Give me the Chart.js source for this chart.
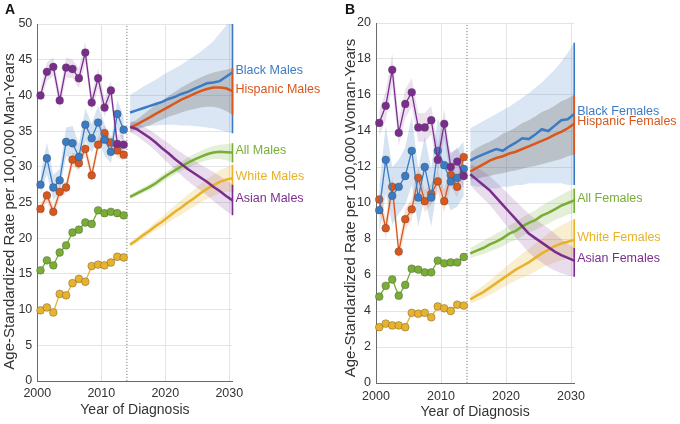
<!DOCTYPE html>
<html>
<head>
<meta charset="utf-8">
<script src="https://cdn.jsdelivr.net/npm/chart.js@4.4.1/dist/chart.umd.min.js"></script>
<style>
html,body{margin:0;padding:0;background:#fff;}
#wrap{position:relative;width:680px;height:424px;overflow:hidden;font-family:"Liberation Sans",Arial,Helvetica,sans-serif;}
.panel{position:absolute;top:0;width:340px;height:424px;}
.tag{position:absolute;top:1px;font-weight:bold;font-size:14px;color:#111;}
</style>
</head>
<body>
<div id="wrap">
  <div class="panel" style="left:0"><canvas id="cA" width="340" height="424"></canvas></div>
  <div class="panel" style="left:340px"><canvas id="cB" width="340" height="424"></canvas></div>
  <div class="tag" style="left:5px">A</div>
  <div class="tag" style="left:345px">B</div>
</div>
<script>
// ---------------- DATA ----------------
const yearsObserved = [2000,2001,2002,2003,2004,2005,2006,2007,2008,2009,2010,2011,2012,2013];
const yearsProjected = [2014,2015,2016,2017,2018,2019,2020,2021,2022,2023,2024,2025,2026,2027,2028,2029,2030];
const xTickLabels = [2000, 2010, 2020, 2030];
const yTicksMales = [0,5,10,15,20,25,30,35,40,45,50];
const yTicksFemales = [0,2,4,6,8,10,12,14,16,18,20];
const projectionStartYear = 2014;

const maleNames = ['Black Males','Hispanic Males','All Males','White Males','Asian Males'];
const femaleNames = ['Black Females','Hispanic Females','All Females','White Females','Asian Females'];

// Panel A: males, observed 2000-2013
const maleBlackObs    = [27.5, 31.2, 27.1, 28.1, 33.5, 33.3, 31.4, 35.9, 34.0, 36.2, 33.8, 32.1, 37.4, 35.2];
const maleBlackObsCI  = [1.5, 2.2, 1.8, 1.6, 2.0, 2.4, 1.8, 2.3, 2.0, 2.4, 2.2, 1.6, 2.0, 1.8];
const maleHispObs     = [24.1, 26.0, 23.7, 26.5, 27.1, 31.0, 30.5, 32.5, 28.8, 33.1, 34.7, 33.4, 32.3, 31.7];
const maleHispObsCI   = [0.7, 0.9, 0.8, 0.8, 0.9, 1.0, 0.9, 1.0, 0.9, 1.0, 1.0, 0.9, 1.0, 0.9];
const maleAsianObs    = [40.0, 43.3, 44.0, 39.3, 43.9, 43.7, 42.4, 46.0, 39.0, 42.4, 38.3, 40.7, 33.2, 33.1];
const maleAsianObsCI  = [1.2, 1.3, 1.3, 1.2, 1.4, 1.3, 1.4, 1.5, 1.3, 1.4, 1.3, 1.4, 1.4, 1.3];
const maleAllObs      = [15.5, 16.9, 16.2, 18.0, 19.0, 20.8, 21.2, 22.2, 22.0, 23.9, 23.5, 23.7, 23.5, 23.2];
const maleWhiteObs    = [9.9, 10.3, 9.6, 12.2, 12.0, 13.7, 14.3, 13.9, 16.1, 16.3, 16.2, 16.6, 17.4, 17.3];

// Panel A: males, projected 2014-2030 with interval
const maleBlackProj = [37.6, 37.9, 38.2, 38.5, 38.8, 39.1, 39.5, 39.8, 40.2, 40.5, 40.9, 41.3, 41.7, 41.8, 42.0, 42.6, 43.2];
const maleBlackLo   = [35.3, 35.5, 35.6, 35.7, 35.8, 35.9, 35.9, 35.9, 35.8, 35.8, 35.7, 35.6, 35.5, 35.4, 35.2, 34.9, 34.7];
const maleBlackHi   = [40.1, 40.6, 41.2, 41.7, 42.2, 42.8, 43.3, 43.8, 44.3, 44.9, 45.5, 46.1, 46.8, 47.6, 48.7, 49.8, 51.0];
const maleHispProj  = [35.5, 35.9, 36.4, 36.9, 37.4, 37.9, 38.4, 38.9, 39.4, 39.8, 40.2, 40.6, 40.9, 41.1, 41.1, 41.0, 40.6];
const maleHispLo    = [34.9, 35.2, 35.5, 35.8, 36.2, 36.6, 37.0, 37.3, 37.6, 37.9, 38.1, 38.3, 38.4, 38.4, 38.2, 37.8, 37.3];
const maleHispHi    = [36.1, 36.6, 37.3, 38.0, 38.7, 39.3, 39.9, 40.5, 41.1, 41.6, 42.1, 42.5, 42.9, 43.2, 43.4, 43.6, 43.8];
const maleAsianProj = [35.6, 35.3, 34.7, 34.1, 33.4, 32.6, 31.9, 31.1, 30.4, 29.7, 29.1, 28.5, 27.9, 27.2, 26.6, 25.9, 25.3];
const maleAsianLo   = [34.8, 34.4, 33.7, 33.0, 32.2, 31.3, 30.5, 29.6, 28.8, 28.0, 27.3, 26.7, 26.0, 25.2, 24.5, 23.8, 23.2];
const maleAsianHi   = [36.4, 36.2, 35.7, 35.2, 34.6, 33.9, 33.3, 32.6, 32.0, 31.4, 30.9, 30.3, 29.8, 29.3, 28.7, 28.1, 27.5];
const maleAllProj   = [25.8, 26.25, 26.7, 27.15, 27.7, 28.35, 28.95, 29.5, 30.05, 30.55, 31.0, 31.4, 31.75, 32.0, 32.1, 32.05, 32.0];
const maleAllLo     = [25.5, 25.9, 26.3, 26.7, 27.2, 27.8, 28.4, 28.9, 29.4, 29.8, 30.2, 30.6, 30.9, 31.1, 31.1, 30.9, 30.6];
const maleAllHi     = [26.1, 26.6, 27.1, 27.6, 28.2, 28.9, 29.5, 30.1, 30.7, 31.3, 31.8, 32.2, 32.6, 32.9, 33.1, 33.2, 33.3];
const maleWhiteProj = [19.1, 19.7, 20.4, 21.0, 21.7, 22.3, 23.0, 23.7, 24.3, 25.0, 25.6, 26.3, 26.9, 27.4, 27.9, 28.2, 28.4];
const maleWhiteLo   = [18.8, 19.3, 19.9, 20.5, 21.1, 21.6, 22.2, 22.8, 23.3, 23.9, 24.4, 25.0, 25.5, 25.9, 26.3, 26.5, 26.5];
const maleWhiteHi   = [19.4, 20.1, 20.8, 21.5, 22.3, 23.0, 23.8, 24.6, 25.3, 26.1, 26.8, 27.6, 28.3, 28.9, 29.5, 29.9, 30.3];

// Panel B: females, observed 2000-2013
const femBlackObs    = [9.6, 12.4, 10.4, 10.9, 11.5, 12.9, 10.3, 12.0, 10.3, 12.9, 12.1, 11.2, 11.4, 11.9];
const femBlackObsCI  = [1.3, 1.9, 1.6, 1.5, 1.6, 1.9, 1.6, 1.7, 1.6, 1.8, 1.7, 1.6, 1.6, 1.5];
const femHispObs     = [10.2, 8.6, 10.9, 7.3, 9.1, 9.65, 11.4, 10.1, 10.5, 11.2, 10.1, 11.55, 10.9, 12.55];
const femHispObsCI   = [0.5, 0.6, 0.6, 0.5, 0.6, 0.6, 0.6, 0.6, 0.6, 0.6, 0.6, 0.6, 0.6, 0.6];
const femAsianObs    = [14.45, 15.4, 17.4, 13.9, 15.5, 16.15, 14.2, 14.2, 14.6, 12.4, 14.4, 12.0, 12.3, 11.5];
const femAsianObsCI  = [0.7, 0.8, 0.9, 0.7, 0.8, 0.8, 0.8, 0.8, 0.8, 0.8, 0.8, 0.7, 0.8, 0.7];
const femAllObs      = [4.8, 5.4, 5.75, 4.85, 5.45, 6.35, 6.3, 6.15, 6.15, 6.8, 6.65, 6.7, 6.7, 7.0];
const femWhiteObs    = [3.1, 3.3, 3.2, 3.2, 3.1, 3.9, 3.85, 3.9, 3.65, 4.25, 4.15, 4.0, 4.35, 4.3];

// Panel B: females, projected 2014-2030 with interval
const femBlackProj = [12.35, 12.55, 12.7, 12.85, 13.0, 12.9, 13.15, 13.35, 13.6, 13.55, 13.8, 14.1, 14.0, 14.3, 14.6, 14.65, 14.95];
const femBlackLo   = [11.0, 10.9, 10.9, 10.8, 10.8, 10.9, 10.9, 11.0, 11.0, 11.1, 11.1, 11.1, 11.1, 11.1, 11.1, 11.0, 11.0];
const femBlackHi   = [14.15, 14.35, 14.55, 14.75, 14.95, 15.15, 15.35, 15.6, 15.85, 16.1, 16.4, 16.7, 17.05, 17.4, 17.85, 18.35, 18.9];
const femHispProj  = [11.75, 11.95, 12.15, 12.35, 12.5, 12.6, 12.75, 12.85, 13.0, 13.15, 13.3, 13.45, 13.6, 13.8, 13.95, 14.15, 14.4];
const femHispLo    = [11.3, 11.35, 11.45, 11.5, 11.6, 11.65, 11.75, 11.8, 11.9, 12.0, 12.05, 12.15, 12.25, 12.35, 12.45, 12.6, 12.7];
const femHispHi    = [12.8, 13.05, 13.25, 13.4, 13.6, 13.85, 14.0, 14.2, 14.45, 14.6, 14.8, 15.05, 15.2, 15.4, 15.65, 15.8, 16.0];
const femAsianProj = [11.6, 11.3, 11.0, 10.7, 10.3, 9.9, 9.5, 9.1, 8.7, 8.3, 8.05, 7.8, 7.55, 7.3, 7.1, 6.95, 6.8];
const femAsianLo   = [11.0, 10.6, 10.25, 9.9, 9.45, 9.0, 8.55, 8.1, 7.65, 7.25, 6.95, 6.7, 6.45, 6.25, 6.1, 6.0, 5.9];
const femAsianHi   = [12.2, 12.0, 11.75, 11.5, 11.15, 10.8, 10.45, 10.1, 9.75, 9.4, 9.1, 8.85, 8.6, 8.3, 8.0, 7.75, 7.5];
const femAllProj   = [7.2, 7.35, 7.5, 7.7, 7.85, 8.05, 8.3, 8.45, 8.7, 8.9, 9.05, 9.3, 9.45, 9.65, 9.85, 10.0, 10.15];
const femAllLo     = [6.95, 7.05, 7.15, 7.3, 7.45, 7.6, 7.8, 7.95, 8.15, 8.35, 8.5, 8.7, 8.85, 9.05, 9.2, 9.35, 9.45];
const femAllHi     = [7.5, 7.7, 7.9, 8.1, 8.3, 8.5, 8.75, 8.95, 9.2, 9.4, 9.6, 9.85, 10.05, 10.25, 10.45, 10.65, 10.8];
const femWhiteProj = [4.65, 4.85, 5.05, 5.3, 5.55, 5.8, 6.05, 6.3, 6.5, 6.7, 6.95, 7.2, 7.4, 7.6, 7.75, 7.85, 7.95];
const femWhiteLo   = [4.4, 4.55, 4.7, 4.9, 5.1, 5.3, 5.5, 5.7, 5.85, 6.0, 6.2, 6.4, 6.55, 6.7, 6.8, 6.9, 7.0];
const femWhiteHi   = [4.9, 5.15, 5.4, 5.7, 6.0, 6.3, 6.6, 6.9, 7.2, 7.45, 7.75, 8.0, 8.3, 8.55, 8.75, 8.95, 9.1];

// ---------------- STYLE ----------------
const FONT = '"Liberation Sans", Arial, Helvetica, sans-serif';
const MID = 0.5; // values plotted at mid-year
const C = {
  black:   {line:'#3b7bc4', band:'rgba(59,123,196,0.19)', obsBand:'rgba(59,123,196,0.22)'},
  hisp:    {line:'#d9571c', band:'rgba(115,105,100,0.30)', obsBand:'rgba(217,87,28,0.18)'},
  asian:   {line:'#7b2d8e', band:'rgba(123,45,142,0.17)', obsBand:'rgba(123,45,142,0.15)'},
  all:     {line:'#79ad35', band:'rgba(121,173,53,0.20)', obsBand:null},
  white:   {line:'#e8b22a', band:'rgba(232,178,42,0.22)', obsBand:null}
};

function pts(years, vals){ return years.map((yr,i)=>({x: yr + MID, y: vals[i]})); }

function buildDatasets(series, yMax){
  const ds = [];
  const lastX = yearsProjected[yearsProjected.length-1] + MID;
  ds.push({data:[{x:projectionStartYear,y:0},{x:projectionStartYear,y:yMax}], borderColor:'#808080', borderWidth:1,
           borderDash:[1.2,1.8], pointRadius:0, fill:false, order:300});
  series.forEach((s)=>{
    ds.push({data:pts(yearsProjected, s.hi), fill:'+1', backgroundColor:s.col.band, borderColor:'rgba(0,0,0,0)',
             borderWidth:1, pointRadius:0, order:200 - s.bandRank});
    ds.push({data:pts(yearsProjected, s.lo), fill:false, borderColor:'rgba(0,0,0,0)', borderWidth:1, pointRadius:0, order:200 - s.bandRank});
    if (s.obsCI && s.col.obsBand){
      ds.push({data:pts(yearsObserved, s.obs.map((v,i)=>v + s.obsCI[i])), fill:'+1', backgroundColor:s.col.obsBand,
               borderColor:'rgba(0,0,0,0)', borderWidth:1, pointRadius:0, order:150 - s.bandRank});
      ds.push({data:pts(yearsObserved, s.obs.map((v,i)=>v - s.obsCI[i])), fill:false, borderColor:'rgba(0,0,0,0)',
               borderWidth:1, pointRadius:0, order:150 - s.bandRank});
    }
    ds.push({data:[{x:lastX, y:s.lo[s.lo.length-1]},{x:lastX, y:s.hi[s.hi.length-1]}], borderColor:s.col.line,
             borderWidth:1.6, pointRadius:0, fill:false, order:60 - s.barRank,
             clip:{left:4,right:4,top:0,bottom:4}});
    ds.push({data:pts(yearsProjected, s.proj), borderColor:s.col.line, borderWidth:2.5, pointRadius:0, fill:false,
             order:40 - s.lineRank, clip:{left:4,right:4,top:0,bottom:4}});
    ds.push({data:pts(yearsObserved, s.obs), borderColor:s.col.line, borderWidth:1.3, pointRadius:3.9,
             pointBackgroundColor:s.col.line, pointBorderColor:'rgba(70,70,70,0.45)', pointBorderWidth:0.8,
             fill:false, order:20 - s.lineRank, clip:{left:6,right:6,top:6,bottom:6}});
  });
  return ds;
}

const endLabels = {
  id:'endLabels',
  afterDatasetsDraw(chart, args, opts){
    const {ctx, chartArea, scales} = chart;
    ctx.save();
    ctx.font = opts.font;
    ctx.textBaseline = 'middle';
    ctx.textAlign = 'left';
    (opts.items || []).forEach(it=>{
      ctx.fillStyle = it.color;
      ctx.fillText(it.text, chartArea.right + opts.gap, scales.y.getPixelForValue(it.value) + opts.dy);
    });
    ctx.restore();
  }
};

const yTitlePlugin = {
  id:'yTitle',
  afterDraw(chart, args, opts){
    const {ctx, chartArea} = chart;
    ctx.save();
    ctx.font = opts.font;
    ctx.fillStyle = opts.color;
    ctx.textAlign = 'center';
    ctx.textBaseline = 'middle';
    ctx.translate(opts.x, (chartArea.top + chartArea.bottom)/2 + opts.dy);
    ctx.rotate(-Math.PI/2);
    ctx.fillText(opts.text, 0, 0);
    ctx.restore();
  }
};

function makeChart(id, series, names, yTicks, yTitle, geo){
  const yMax = yTicks[yTicks.length-1];
  const items = series.map((s,i)=>({text:names[i], color:s.col.line, value:s.proj[s.proj.length-1]}));
  return new Chart(document.getElementById(id), {
    type:'line',
    data:{datasets: buildDatasets(series, yMax)},
    plugins:[endLabels, yTitlePlugin],
    options:{
      responsive:false, animation:false, devicePixelRatio:1, events:[],
      layout:{padding:{top:geo.top, right:geo.right, left:0, bottom:0}},
      elements:{line:{tension:0}},
      plugins:{legend:{display:false}, tooltip:{enabled:false},
        endLabels:{items, font:'12.5px '+FONT, gap:3, dy:-2},
        yTitle:{text:yTitle, font:'15px '+FONT, color:'#333', x:geo.tx, dy:geo.tdy}},
      scales:{
        x:{type:'linear', min:2000, max:yearsProjected[yearsProjected.length-1]+MID,
           afterBuildTicks:(sc)=>{ sc.ticks = xTickLabels.map(v=>({value:v})); },
           afterFit:(sc)=>{ sc.height = geo.xh; },
           ticks:{autoSkip:false, maxRotation:0, padding:geo.xpad, color:'#333', font:{family:FONT, size:12.5},
                  callback:(v)=>String(v)},
           grid:{color:'#e4e4e4', drawTicks:false, lineWidth:1},
           border:{color:'#6a6a6a', width:1},
           title:{display:true, text:'Year of Diagnosis', color:'#333', font:{family:FONT, size:14},
                  padding:{top:0, bottom:geo.xtb}}},
        y:{type:'linear', min:0, max:yMax,
           afterBuildTicks:(sc)=>{ sc.ticks = yTicks.map(v=>({value:v})); },
           afterFit:(sc)=>{ sc.width = geo.yw; },
           ticks:{padding:5, color:'#333', font:{family:FONT, size:12.5}},
           grid:{color:'#e4e4e4', drawTicks:false, lineWidth:1},
           border:{color:'#6a6a6a', width:1},
           title:{display:false}}
      }
    }
  });
}

const maleSeries = [
  {col:C.black, obs:maleBlackObs, obsCI:maleBlackObsCI, proj:maleBlackProj, lo:maleBlackLo, hi:maleBlackHi, bandRank:0, barRank:0, lineRank:1},
  {col:C.hisp,  obs:maleHispObs,  obsCI:maleHispObsCI,  proj:maleHispProj,  lo:maleHispLo,  hi:maleHispHi,  bandRank:1, barRank:1, lineRank:0},
  {col:C.all,   obs:maleAllObs,   obsCI:null, proj:maleAllProj,  lo:maleAllLo,  hi:maleAllHi,  bandRank:2, barRank:2, lineRank:-1},
  {col:C.white, obs:maleWhiteObs, obsCI:null, proj:maleWhiteProj, lo:maleWhiteLo, hi:maleWhiteHi, bandRank:3, barRank:3, lineRank:-2},
  {col:C.asian, obs:maleAsianObs, obsCI:maleAsianObsCI, proj:maleAsianProj, lo:maleAsianLo, hi:maleAsianHi, bandRank:4, barRank:4, lineRank:2}
];
const femaleSeries = [
  {col:C.black, obs:femBlackObs, obsCI:femBlackObsCI, proj:femBlackProj, lo:femBlackLo, hi:femBlackHi, bandRank:0, barRank:0, lineRank:1},
  {col:C.hisp,  obs:femHispObs,  obsCI:femHispObsCI,  proj:femHispProj,  lo:femHispLo,  hi:femHispHi,  bandRank:1, barRank:1, lineRank:0},
  {col:C.all,   obs:femAllObs,   obsCI:null, proj:femAllProj,  lo:femAllLo,  hi:femAllHi,  bandRank:2, barRank:2, lineRank:-1},
  {col:C.white, obs:femWhiteObs, obsCI:null, proj:femWhiteProj, lo:femWhiteLo, hi:femWhiteHi, bandRank:3, barRank:3, lineRank:-2},
  {col:C.asian, obs:femAsianObs, obsCI:femAsianObsCI, proj:femAsianProj, lo:femAsianLo, hi:femAsianHi, bandRank:4, barRank:4, lineRank:2}
];

makeChart('cA', maleSeries, maleNames, yTicksMales, 'Age-Standardized Rate per 100,000 Man-Years',
  {top:24, right:107.5, yw:37.3, xh:43, xpad:5, xtb:5, tx:10, tdy:9});
makeChart('cB', femaleSeries, femaleNames, yTicksFemales, 'Age-Standardized Rate per 100,000 Woman-Years',
  {top:23, right:105.75, yw:36, xh:41, xpad:6, xtb:3, tx:11, tdy:5});
</script>
</body>
</html>
